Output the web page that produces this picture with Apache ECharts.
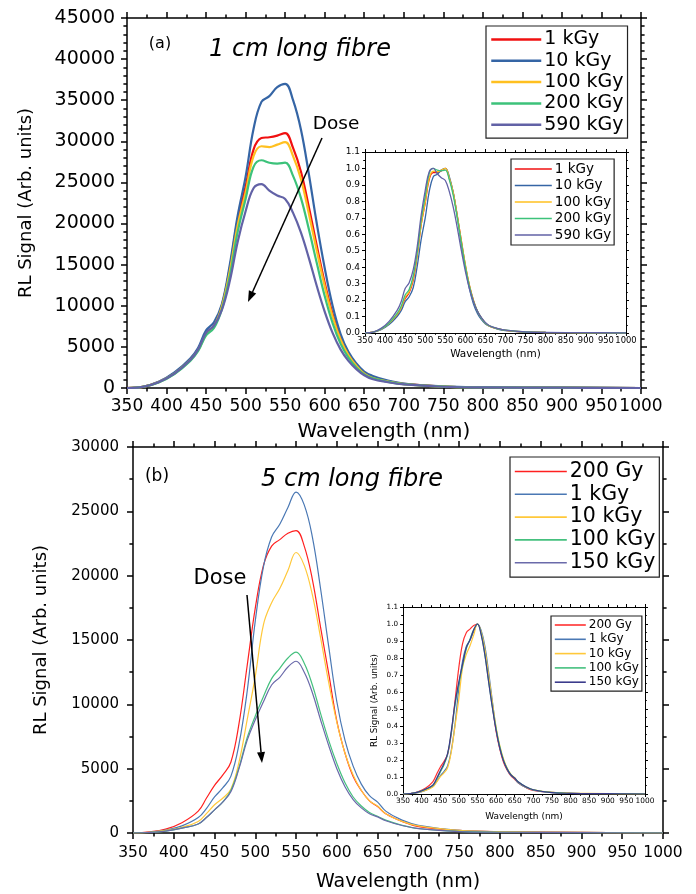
<!DOCTYPE html>
<html>
<head>
<meta charset="utf-8">
<script src="https://cdn.jsdelivr.net/npm/echarts@6/dist/echarts.min.js"></script>
<style>
  html, body { margin: 0; padding: 0; background: #fff; }
  #chart { width: 696px; height: 894px; }
</style>
</head>
<body>
<div id="chart"></div>
<script>
// shared wavelength grid (nm)
var wavelength = [350,370,390,410,430,440,450,460,470,480,490,500,510,520,530,540,550,560,570,580,590,600,610,620,630,640,650,660,680,700,750,800,900,1000];

// (a) 1 cm long fibre, RL signal
var aNames = ['1 kGy', '10 kGy', '100 kGy', '200 kGy', '590 kGy'];
var a1k   = [0,140,720,1800,3500,4700,6600,7600,10000,14600,20500,24500,29000,30400,30500,30700,31000,29200,26300,22000,17300,12800,9000,6100,4100,2800,1800,1300,800,500,180,90,40,0];
var a10k  = [0,150,750,1900,3600,4900,7000,8000,10200,15000,21000,25700,31500,34800,35500,36600,37000,35000,31400,26000,20000,14600,10000,6600,4400,3000,2000,1500,900,550,200,100,50,0];
var a100k = [0,140,700,1750,3400,4600,6500,7500,9900,14200,19800,23800,28200,29400,29300,29600,29900,28200,25400,21200,16700,12400,8700,5900,4000,2700,1750,1250,780,480,170,90,40,0];
var a200k = [0,130,680,1700,3300,4500,6400,7300,9600,13600,19000,23000,26900,27700,27400,27300,27400,25800,23100,19300,15200,11200,7900,5400,3700,2500,1650,1200,750,460,160,80,40,0];
var a590k = [0,130,700,1750,3400,4700,6700,7600,9500,13000,17800,21500,24300,24800,24000,23400,23000,21300,18900,15800,12400,9300,6700,4700,3300,2300,1550,1100,700,430,150,80,40,0];

// (a) inset, normalised
var n1k   = [0,0.005,0.023,0.058,0.11,0.15,0.21,0.245,0.32,0.47,0.66,0.79,0.935,0.975,0.975,0.985,1.0,0.94,0.85,0.71,0.56,0.41,0.29,0.2,0.13,0.09,0.06,0.042,0.026,0.016,0.006,0.003,0.001,0];
var n10k  = [0,0.004,0.02,0.051,0.1,0.135,0.19,0.22,0.275,0.405,0.57,0.7,0.86,0.95,0.965,0.99,1.0,0.95,0.85,0.705,0.54,0.395,0.27,0.178,0.119,0.081,0.055,0.041,0.024,0.015,0.005,0.003,0.001,0];
var n100k = [0,0.005,0.023,0.059,0.114,0.154,0.217,0.251,0.331,0.475,0.66,0.796,0.943,0.983,0.98,0.99,1.0,0.943,0.85,0.709,0.559,0.415,0.291,0.197,0.134,0.09,0.059,0.042,0.026,0.016,0.006,0.003,0.001,0];
var n200k = [0,0.005,0.025,0.061,0.119,0.162,0.231,0.264,0.347,0.49,0.686,0.83,0.971,1.0,0.99,0.986,0.99,0.931,0.834,0.697,0.549,0.404,0.285,0.195,0.134,0.09,0.06,0.043,0.027,0.017,0.006,0.003,0.001,0];
var n590k = [0,0.005,0.028,0.071,0.137,0.19,0.27,0.306,0.383,0.524,0.718,0.867,0.98,1.0,0.968,0.944,0.927,0.859,0.762,0.637,0.5,0.375,0.27,0.19,0.133,0.093,0.063,0.044,0.028,0.017,0.006,0.003,0.002,0];

// (b) 5 cm long fibre, RL signal
var bNames = ['200 Gy', '1 kGy', '10 kGy', '100 kGy', '150 kGy'];
var b200  = [0,80,300,800,1700,2700,3700,4500,5500,8500,13000,17500,20800,22300,22800,23300,23500,22300,19700,16000,12400,8700,6200,4400,3300,2500,2050,1500,900,500,200,100,50,0];
var b1k   = [0,60,220,550,1200,1900,2800,3500,4400,6900,11000,16500,20700,23000,24000,25300,26500,25500,23000,19000,14500,10200,7200,5200,3800,2900,2400,1700,1000,600,200,100,50,0];
var b10k  = [0,50,200,450,900,1500,2200,2700,3400,5500,8800,12200,16200,17900,19000,20400,21800,20800,18500,15200,11700,8600,6200,4500,3300,2500,2100,1500,900,550,200,100,50,0];
var b100k = [0,40,150,380,700,1200,1800,2400,3300,5100,7400,9100,10600,12000,12800,13600,14050,13200,11500,9300,7200,5400,3900,2800,2100,1600,1300,1000,600,350,120,60,30,0];
var b150k = [0,40,150,380,700,1200,1800,2400,3200,5000,7200,8800,10200,11500,12100,12900,13350,12500,10900,8800,6800,5000,3600,2600,1950,1500,1250,950,580,340,110,60,30,0];

// (b) inset, normalised
var m200  = [0,0.003,0.013,0.034,0.072,0.115,0.157,0.191,0.234,0.362,0.553,0.745,0.885,0.949,0.97,0.991,1.0,0.949,0.838,0.681,0.528,0.37,0.264,0.187,0.14,0.106,0.087,0.064,0.038,0.021,0.009,0.004,0.002,0];
var m1k   = [0,0.002,0.008,0.021,0.045,0.072,0.106,0.132,0.166,0.26,0.415,0.623,0.781,0.868,0.906,0.955,1.0,0.962,0.868,0.717,0.547,0.385,0.272,0.196,0.143,0.109,0.091,0.064,0.038,0.023,0.008,0.004,0.002,0];
var m10k  = [0,0.002,0.009,0.021,0.041,0.069,0.101,0.124,0.156,0.252,0.404,0.56,0.743,0.821,0.872,0.936,1.0,0.954,0.849,0.697,0.537,0.394,0.284,0.206,0.151,0.115,0.096,0.069,0.041,0.025,0.009,0.005,0.002,0];
var m100k = [0,0.003,0.011,0.027,0.05,0.085,0.128,0.171,0.235,0.363,0.527,0.648,0.754,0.854,0.911,0.968,1.0,0.94,0.818,0.662,0.512,0.384,0.278,0.199,0.149,0.114,0.093,0.071,0.043,0.025,0.009,0.004,0.002,0];
var m150k = [0,0.003,0.011,0.028,0.052,0.09,0.135,0.18,0.24,0.375,0.539,0.659,0.764,0.861,0.906,0.966,1.0,0.936,0.816,0.659,0.509,0.375,0.27,0.195,0.146,0.112,0.094,0.071,0.043,0.025,0.008,0.004,0.002,0];

var xTicks = { min: 350, max: 1000, interval: 50 };

var FONT = 'DejaVu Sans';
var colA = ['#f01010', '#3565a5', '#ffc020', '#3cc27a', '#6262a6'];
var colB = ['#ff2020', '#4a78b4', '#ffc83a', '#45c07e', '#6a6aaa'];

var grids = [], xAxes = [], yAxes = [], series = [], legends = [];

function addPanel(p) {
    var gi = grids.length;
    grids.push({ left: p.left, top: p.top, width: p.width, height: p.height, containLabel: false });
    var line = { show: true, onZero: false, lineStyle: { color: '#000', width: p.lw } };
    function tick(len) { return { show: true, length: len, lineStyle: { color: '#000', width: p.lw } }; }
    function minor(n, len) { return { show: true, splitNumber: n, length: len, lineStyle: { color: '#000', width: p.lw } }; }
    var xb = {
        type: 'value', gridIndex: gi, position: 'bottom', min: xTicks.min, max: xTicks.max, interval: xTicks.interval,
        axisLine: line, axisTick: tick(p.tick), minorTick: minor(2, p.tick * 0.6), splitLine: { show: false },
        axisLabel: { color: '#000', fontFamily: FONT, fontSize: p.xfs, margin: p.xmargin, hideOverlap: false,
                     showMinLabel: true, showMaxLabel: true, formatter: function (v) { return String(v); } },
        name: 'Wavelength (nm)', nameLocation: 'middle', nameGap: p.xgap,
        nameTextStyle: { color: '#000', fontFamily: FONT, fontSize: p.xnfs }
    };
    var xt = {
        type: 'value', gridIndex: gi, position: 'top', min: xTicks.min, max: xTicks.max, interval: xTicks.interval,
        axisLine: line, axisTick: tick(p.tick), minorTick: minor(2, p.tick * 0.6), splitLine: { show: false },
        axisLabel: { show: false }
    };
    var yl = {
        type: 'value', gridIndex: gi, position: 'left', min: 0, max: p.ymax, interval: p.yint,
        axisLine: line, axisTick: tick(p.tick), minorTick: minor(p.yMinor, p.tick * 0.6), splitLine: { show: false },
        axisLabel: { color: '#000', fontFamily: FONT, fontSize: p.yfs, margin: p.ymargin, formatter: p.yfmt }
    };
    if (p.yname) {
        yl.name = p.yname; yl.nameLocation = 'middle'; yl.nameGap = p.ygap;
        yl.nameTextStyle = { color: '#000', fontFamily: FONT, fontSize: p.ynfs };
    }
    var yr = {
        type: 'value', gridIndex: gi, position: 'right', min: 0, max: p.ymax, interval: p.yint,
        axisLine: line, axisTick: tick(p.tick), minorTick: minor(p.yMinor, p.tick * 0.6), splitLine: { show: false },
        axisLabel: { show: false }
    };
    var xi = xAxes.length, yi = yAxes.length;
    xAxes.push(xb, xt);
    yAxes.push(yl, yr);
    var names = [];
    p.sets.forEach(function (vals, k) {
        var nm = p.tag + '|' + p.names[k];
        names.push(nm);
        series.push({
            type: 'line', name: nm, xAxisIndex: xi, yAxisIndex: yi,
            data: wavelength.map(function (w, i) { return [w, vals[i]]; }),
            showSymbol: false, symbol: 'none', smooth: 0.4,
            lineStyle: { color: p.colors[k], width: p.sw }, itemStyle: { color: p.colors[k] },
            z: 3 + k, animation: false
        });
    });
    var lg = p.legend;
    legends.push({
        data: names, orient: 'vertical', left: lg.left, top: lg.top, padding: lg.pad,
        itemWidth: lg.iw, itemHeight: lg.ih, itemGap: lg.gap, selectedMode: false,
        borderColor: '#222', borderWidth: 1.2, backgroundColor: '#fff',
        itemStyle: { opacity: 0 },
        lineStyle: { width: lg.lw },
        textStyle: { color: '#000', fontFamily: FONT, fontSize: lg.fs, padding: [0, 0, 0, -2] },
        formatter: function (n) { return n.split('|')[1]; }
    });
}

var fmtInt = function (v) { return String(v); };
var fmtDec = function (v) { return v.toFixed(1); };

// (a) main
addPanel({
    tag: 'A', left: 127, top: 18, width: 514, height: 370, lw: 1.5, tick: 6,
    ymax: 45000, yint: 5000, yMinor: 5, yfmt: fmtInt,
    xfs: 17, xmargin: 10, xgap: 34, xnfs: 20, yfs: 19, ymargin: 12,
    yname: 'RL Signal (Arb. units)', ygap: 92, ynfs: 18,
    names: aNames, sets: [a1k, a10k, a100k, a200k, a590k], colors: colA, sw: 2.2,
    legend: { left: 486, top: 26, pad: [4, 4, 4, 4], iw: 50, ih: 20, gap: 2.3, fs: 19, lw: 2.5 }
});
// (a) inset
addPanel({
    tag: 'AI', left: 365, top: 152, width: 261, height: 181, lw: 1, tick: 3,
    ymax: 1.1, yint: 0.1, yMinor: 2, yfmt: fmtDec,
    xfs: 8.4, xmargin: 4, xgap: 16, xnfs: 10.5, yfs: 9, ymargin: 5,
    names: aNames, sets: [n1k, n10k, n100k, n200k, n590k], colors: colA, sw: 1.3,
    legend: { left: 511, top: 159, pad: [3, 3, 3, 3], iw: 37, ih: 14, gap: 2.5, fs: 13.5, lw: 1.6 }
});
// (b) main
addPanel({
    tag: 'B', left: 133, top: 447, width: 530, height: 386, lw: 1.5, tick: 6,
    ymax: 30000, yint: 5000, yMinor: 2, yfmt: fmtInt,
    xfs: 15.5, xmargin: 12, xgap: 40, xnfs: 19, yfs: 15, ymargin: 14,
    yname: 'RL Signal (Arb. units)', ygap: 83, ynfs: 18,
    names: bNames, sets: [b200, b1k, b10k, b100k, b150k], colors: colB, sw: 1.2,
    legend: { left: 510, top: 457, pad: [4, 4, 4, 4], iw: 52, ih: 23, gap: 1.8, fs: 20.5, lw: 1.6 }
});
// (b) inset
addPanel({
    tag: 'BI', left: 403, top: 607, width: 242, height: 187, lw: 1, tick: 3,
    ymax: 1.1, yint: 0.1, yMinor: 2, yfmt: fmtDec,
    xfs: 7.4, xmargin: 4, xgap: 18, xnfs: 9, yfs: 7.2, ymargin: 5,
    yname: 'RL Signal (Arb. units)', ygap: 24, ynfs: 8.8,
    names: bNames, sets: [m200, m1k, m10k, m100k, m150k], colors: ['#ff3030', '#4a78b4', '#ffc83a', '#45c07e', '#3c3c8c'], sw: 1.2,
    legend: { left: 551, top: 616, pad: [3, 3, 3, 3], iw: 31, ih: 13, gap: 2.3, fs: 12, lw: 1.6 }
});

function arrow(x1, y1, x2, y2) {
    var dx = x2 - x1, dy = y2 - y1, L = Math.sqrt(dx * dx + dy * dy);
    var ux = dx / L, uy = dy / L, hl = 11, hw = 4;
    var bx = x2 - ux * hl, by = y2 - uy * hl;
    return [
        { type: 'line', shape: { x1: x1, y1: y1, x2: bx, y2: by }, style: { stroke: '#000', lineWidth: 1.5 }, z: 100 },
        { type: 'polygon', shape: { points: [[x2, y2], [bx - uy * hw, by + ux * hw], [bx + uy * hw, by - ux * hw]] }, style: { fill: '#000' }, z: 100 }
    ];
}
function label(txt, x, y, fs, italic) {
    return { type: 'text', x: x, y: y, z: 100,
        style: { text: txt, fill: '#000', font: (italic ? 'italic ' : '') + fs + 'px "' + FONT + '"', textAlign: 'center', textVerticalAlign: 'middle' } };
}

var graphics = [
    label('(a)', 160, 44, 16),
    label('1 cm long fibre', 300, 50, 24, true),
    label('Dose', 336, 124, 18.5),
    label('(b)', 157, 477, 17),
    label('5 cm long fibre', 352, 480, 24, true),
    label('Dose', 220, 579, 21)
].concat(arrow(322, 138, 248, 302), arrow(247, 595, 262, 763));

var chart = echarts.init(document.getElementById('chart'), null, { renderer: 'canvas' });
chart.setOption({
    animation: false,
    backgroundColor: '#fff',
    grid: grids,
    xAxis: xAxes,
    yAxis: yAxes,
    legend: legends,
    series: series,
    graphic: graphics
});
</script>
</body>
</html>
